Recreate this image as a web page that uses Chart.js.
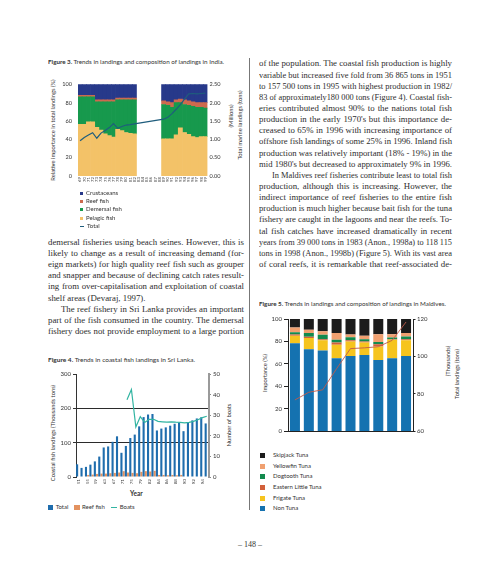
<!DOCTYPE html>
<html><head><meta charset="utf-8">
<script src="https://cdn.jsdelivr.net/npm/chart.js@4.4.1/dist/chart.umd.min.js"></script>
<style>
html,body{margin:0;padding:0;background:#fff;}
body{width:500px;height:571px;position:relative;overflow:hidden;font-family:Lato,"Liberation Sans",sans-serif;color:#333;}
canvas{position:absolute;}
.col{position:absolute;font-family:"Liberation Serif",serif;font-size:8.8px;line-height:11.15px;color:#2e2e2e;}
.col div{white-space:nowrap;height:11.15px;}
.col span,.cap span{display:inline-block;transform-origin:0 50%;white-space:nowrap;}
.cap{position:absolute;font-size:5.8px;line-height:8px;white-space:nowrap;}
.vt{position:absolute;white-space:nowrap;transform:translate(-50%,-50%) rotate(-90deg);font-size:5.8px;line-height:7px;}
.lg{position:absolute;font-size:6px;white-space:nowrap;}
.rule{position:absolute;left:248.5px;top:58px;width:1.6px;height:452px;background:#777;}
</style>
</head><body>
<div class="rule"></div>

<div class="cap" id="cap3" style="left:48px;top:57.7px"><span><b>Figure 3.</b> Trends in landings and composition of landings in India.</span></div>
<div class="cap" id="cap4" style="left:48px;top:356px"><span><b>Figure 4.</b> Trends in coastal fish landings in Sri Lanka.</span></div>
<div class="cap" id="cap5" style="left:259px;top:300.3px"><span><b>Figure 5.</b> Trends in landings and composition of landings in Maldives.</span></div>

<div class="vt" style="left:52px;top:130px">Relative importance in total landings (%)</div>
<div class="vt" style="left:230px;top:116px">(Millions)</div>
<div class="vt" style="left:238.5px;top:125px">Total marine landings (tons)</div>
<div class="vt" style="left:52px;top:433px">Coastal fish landings (Thousands tons)</div>
<div class="vt" style="left:228px;top:425px">Number of boats</div>
<div class="vt" style="left:264px;top:373px">Importance (%)</div>
<div class="vt" style="left:447px;top:361px">(Thousands)</div>
<div class="vt" style="left:455.5px;top:374px">Total landings (tons)</div>
<div class="lg" style="left:130px;top:490px;font-weight:700;font-size:6.5px;">Year</div>

<div class="col" id="left" style="left:48px;top:236.9px;width:196px">
<div>demersal fisheries using beach seines. However, this is</div>
<div>likely to change as a result of increasing demand (for-</div>
<div>eign markets) for high quality reef fish such as grouper</div>
<div>and snapper and because of declining catch rates result-</div>
<div>ing from over-capitalisation and exploitation of coastal</div>
<div class="e">shelf areas (Devaraj, 1997).</div>
<div class="i">The reef fishery in Sri Lanka provides an important</div>
<div>part of the fish consumed in the country. The demersal</div>
<div>fishery does not provide employment to a large portion</div>
</div>

<div class="col" id="right" style="left:259px;top:58.4px;width:193px">
<div>of the population. The coastal fish production is highly</div>
<div>variable but increased five fold from 36 865 tons in 1951</div>
<div>to 157 500 tons in 1995 with highest production in 1982/</div>
<div>83 of approximately180 000 tons (Figure 4). Coastal fish-</div>
<div>eries contributed almost 90% to the nations total fish</div>
<div>production in the early 1970's but this importance de-</div>
<div>creased to 65% in 1996 with increasing importance of</div>
<div>offshore fish landings of some 25% in 1996. Inland fish</div>
<div>production was relatively important (18% - 19%) in the</div>
<div class="e">mid 1980's but decreased to approximately 9% in 1996.</div>
<div class="i">In Maldives reef fisheries contribute least to total fish</div>
<div>production, although this is increasing. However, the</div>
<div>indirect importance of reef fisheries to the entire fish</div>
<div>production is much higher because bait fish for the tuna</div>
<div>fishery are caught in the lagoons and near the reefs. To-</div>
<div>tal fish catches have increased dramatically in recent</div>
<div>years from 39 000 tons in 1983 (Anon., 1998a) to 118 115</div>
<div>tons in 1998 (Anon., 1998b) (Figure 5). With its vast area</div>
<div>of coral reefs, it is remarkable that reef-associated de-</div>
</div>

<div style="position:absolute;left:0;width:500px;top:540px;text-align:center;font-family:'Liberation Serif',serif;font-size:8px;color:#333;">– 148 –</div>

<canvas id="c3" width="173" height="116" style="left:56px;top:75px"></canvas>
<canvas id="c4" width="177" height="125" style="left:54px;top:368px"></canvas>
<canvas id="c5" width="169" height="124" style="left:266px;top:313px"></canvas>

<script>
const $ = s => document.querySelector(s);

// Figure 3 - India, composition (%) and total marine landings (millions of tons)
const indiaYears = ['69','70','71','72','73','74','75','76','77','78','79','80','81','82','83','84','85','86','87','88','89','90','91','92','93','94','95','96','97','98','99'];
const indiaPelagic = [56.5,56.5,59,59,53,50,46,44,42.5,51,49.5,47.5,46.5,46,null,null,null,null,null,null,40.5,40.5,40.5,45,52.5,47.5,45.5,43,42,43,43];
const indiaDemersal = [30,30,27.5,27.5,28,31,35,37,38.5,32,33.5,35.5,36.5,37,null,null,null,null,null,null,37.5,36.5,34.5,35,27.5,30.5,31.5,33,33,32,31];
const indiaReef = [1.5,1.5,1.5,1.5,2,2,2,2,2,2,2,2,2,2,null,null,null,null,null,null,4,4,5,3,4,5,5,5,5,5,6];
const indiaCrust = [12,12,12,12,17,17,17,17,17,15,15,15,15,15,null,null,null,null,null,null,18,19,20,17,16,17,18,19,20,20,20];
const indiaTotal = [0.96,1.05,1.12,1.18,1.03,1.17,1.24,1.32,1.43,1.30,1.35,1.39,1.40,1.42,null,null,null,null,null,null,1.55,1.60,1.70,1.82,1.95,2.10,2.24,2.25,2.24,2.25,2.26];
const indiaTicksL = [0,20,40,60,80,100];
const indiaTicksR = [0,0.5,1,1.5,2,2.5];

// Figure 4 - Sri Lanka, coastal landings (thousand tons) and boats
const slYears = ['51','53','55','57','59','61','63','65','67','69','71','73','75','77','79','81','82','83','84','85','86','87','88','89','90','91','92','93','94','95'];
const slTotal = [37,26.5,29.5,36,45.5,59.5,86,89,102.5,118.5,70.5,90.5,113.5,123.5,147.5,174.5,182,183.5,135.5,141,144.5,149.5,155,158,133.5,158,165,170.5,174,156];
const slReef = [null,null,6,7,9,10,10,11,12,13,17,13,12,11,15,17,16,18,6,6,5,6,5,6,null,null,null,null,null,null];
const slBoats = [null,null,null,null,null,null,null,null,null,null,null,37.5,42.5,24.3,29.3,26.5,28,28,27,26.8,26.6,26.8,26.6,26.5,26.3,26.5,27,27.8,28.8,29.5];

// Figure 5 - Maldives, composition (%) and total landings (thousand tons)
const mvYears = ['1990','1991','1992','1993','1994','1995','1996','1997','1998'];
const mvNonTuna = [78.5,73,72,65,67,68,63.5,65,67];
const mvFrigate = [6.6,10,9,12,13,11,12,16.5,14];
const mvEastern = [1.2,1.3,1,2,1.2,1,2,0.5,1];
const mvDogtooth = [2,3.2,4,2.5,2.5,2,2,1.5,2.5];
const mvYellowfin = [4.2,3,3,6,2.5,3,7,3,3];
const mvSkipjack = [7.5,9.5,11,12.5,13.8,15,13.5,13.5,12.5];
const mvTotal = [76.8,80.9,82.2,93.5,104.2,104.6,105.2,108.6,118.4];

Chart.defaults.font.family = "Lato, 'Liberation Sans', sans-serif";
Chart.defaults.color = '#333';

const base = {
  responsive:false, animation:false, devicePixelRatio:1,
  layout:{padding:{top:6}},
  plugins:{legend:{display:false}, tooltip:{enabled:false}}
};
const fixW = w => s => { s.width = w; };
const fixH = h => s => { s.height = h; };

const c3 = {crust:'#27398a', reef:'#cd6a4e', dem:'#17994d', pel:'#f3c268', tot:'#1f5d7d'};
new Chart($('#c3'), {
  data:{labels:indiaYears, datasets:[
    {type:'line', label:'Total', data:indiaTotal, yAxisID:'y1', borderColor:c3.tot, borderWidth:1.2, pointRadius:0, spanGaps:true, tension:0, order:0},
    {type:'bar', label:'Pelagic fish', data:indiaPelagic, backgroundColor:c3.pel, order:1},
    {type:'bar', label:'Demersal fish', data:indiaDemersal, backgroundColor:c3.dem, order:1},
    {type:'bar', label:'Reef fish', data:indiaReef, backgroundColor:c3.reef, order:1},
    {type:'bar', label:'Crustaceans', data:indiaCrust, backgroundColor:c3.crust, order:1}
  ]},
  options:{...base,
    datasets:{bar:{barPercentage:1, categoryPercentage:1}},
    scales:{
      x:{stacked:true, grid:{display:false, drawTicks:false}, border:{display:false},
         ticks:{autoSkip:false, minRotation:90, maxRotation:90, padding:1, color:'#444', font:{size:4.3}}, afterFit:fixH(15)},
      y:{stacked:true, min:0, max:100, afterBuildTicks:s=>{s.ticks=indiaTicksL.map(v=>({value:v}));},
         ticks:{padding:6, font:{size:5.6}}, grid:{display:false, drawTicks:false}, border:{display:false}, afterFit:fixW(22)},
      y1:{position:'right', min:0, max:2.5, afterBuildTicks:s=>{s.ticks=indiaTicksR.map(v=>({value:v}));},
         ticks:{padding:2, font:{size:5.6}, callback:v=>Number(v).toFixed(2)}, grid:{display:false, drawTicks:false}, border:{display:false}, afterFit:fixW(21.5)}
    }
  }
});

const c4 = {tot:'#1f6dad', reef:'#e3925f', boats:'#33b5a2'};
new Chart($('#c4'), {
  data:{labels:slYears, datasets:[
    {type:'line', label:'Boats', data:slBoats, yAxisID:'y1', borderColor:c4.boats, borderWidth:1.2, pointRadius:0, tension:0, order:0},
    {type:'bar', label:'Total', data:slTotal, backgroundColor:c4.tot, order:1},
    {type:'bar', label:'Reef fish', data:slReef, backgroundColor:c4.reef, order:1}
  ]},
  options:{...base,
    datasets:{bar:{barPercentage:0.95, categoryPercentage:1}},
    scales:{
      x:{grid:{display:false, drawTicks:false}, border:{display:false},
         ticks:{autoSkip:false, minRotation:90, maxRotation:90, padding:2, color:'#444', font:{size:4.6}, callback:(v,i)=> i%2===0 ? slYears[i] : ''}, afterFit:fixH(16)},
      y:{min:0, max:300, ticks:{stepSize:100, padding:2, font:{size:6}},
         grid:{color:c=>(c.tick && (c.tick.value===100 || c.tick.value===200)) ? '#2b2b2b' : 'rgba(0,0,0,0)', lineWidth:1, tickLength:3, tickColor:'#333'},
         border:{color:'#333', width:1}, afterFit:fixW(22)},
      y1:{position:'right', min:0, max:50, ticks:{stepSize:10, padding:2, font:{size:6}},
         grid:{drawOnChartArea:false, tickLength:2, tickColor:'#888'}, border:{color:'#9a9a9a', width:2}, afterFit:fixW(22)}
    }
  }
});

const c5 = {sj:'#1c1c1c', yf:'#f0a070', dt:'#138a4e', el:'#d2603a', ft:'#f6c41e', nt:'#1572b0', tot:'#c05a4a'};
new Chart($('#c5'), {
  data:{labels:mvYears, datasets:[
    {type:'line', label:'Total landings', data:mvTotal, yAxisID:'y1', borderColor:c5.tot, borderWidth:0.9, pointRadius:0, tension:0, order:0},
    {type:'bar', label:'Non Tuna', data:mvNonTuna, backgroundColor:c5.nt, order:1},
    {type:'bar', label:'Frigate Tuna', data:mvFrigate, backgroundColor:c5.ft, order:1},
    {type:'bar', label:'Eastern Little Tuna', data:mvEastern, backgroundColor:c5.el, order:1},
    {type:'bar', label:'Dogtooth Tuna', data:mvDogtooth, backgroundColor:c5.dt, order:1},
    {type:'bar', label:'Yellowfin Tuna', data:mvYellowfin, backgroundColor:c5.yf, order:1},
    {type:'bar', label:'Skipjack Tuna', data:mvSkipjack, backgroundColor:c5.sj, order:1}
  ]},
  options:{...base,
    datasets:{bar:{barPercentage:0.72, categoryPercentage:1}},
    scales:{
      x:{stacked:true, grid:{display:false, drawTicks:false}, border:{display:true, color:'#222', width:1},
         ticks:{display:false}, afterFit:fixH(5)},
      y:{stacked:true, min:0, max:100, ticks:{stepSize:20, padding:2, font:{size:6}},
         grid:{drawOnChartArea:false, tickLength:4, tickColor:'#222', color:'#222'}, border:{color:'#222', width:1}, afterFit:fixW(22)},
      y1:{position:'right', min:60, max:120, ticks:{stepSize:20, padding:1.5, font:{size:6}},
         grid:{drawOnChartArea:false, tickLength:2.5, tickColor:'#222', color:'#222'}, border:{color:'#222', width:1}, afterFit:fixW(22)}
    }
  }
});

// legends
function legend(items, x, y, dy, dx, sz, tx){
  items.forEach(([label, color, kind], i) => {
    const d = document.createElement('div');
    d.className = 'lg';
    const cx = x + (dx ? dx[i] : 0), cy = y + i*dy;
    d.style.left = cx + 'px'; d.style.top = (cy - 4) + 'px'; d.style.lineHeight = '8px';
    const mark = kind === 'line'
      ? `<span style="display:inline-block;width:${sz+1}px;height:1.2px;background:${color};vertical-align:middle;margin-right:${tx}px"></span>`
      : `<span style="display:inline-block;width:${sz}px;height:${sz}px;background:${color};vertical-align:middle;margin-right:${tx}px"></span>`;
    d.innerHTML = mark + `<span style="vertical-align:middle">${label}</span>`;
    document.body.appendChild(d);
  });
}
legend([['Crustaceans',c3.crust],['Reef fish',c3.reef],['Demersal fish',c3.dem],['Pelagic fish',c3.pel],['Total',c3.tot,'line']], 79.5, 192.7, 8.35, null, 3, 3.5);
legend([['Skipjack Tuna',c5.sj],['Yellowfin Tuna',c5.yf],['Dogtooth Tuna',c5.dt],['Eastern Little Tuna',c5.el],['Frigate Tuna',c5.ft],['Non Tuna',c5.nt]], 260, 455, 10.65, null, 5, 8);
legend([['Total',c4.tot],['Reef fish',c4.reef],['Boats',c4.boats,'line']], 47.7, 507, 0, [0,26.3,63], 5.5, 2.5);

// fit text lines to the column width
function wrapSpans(root){ root.querySelectorAll('div').forEach(d => { d.innerHTML = '<span>' + d.innerHTML + '</span>'; }); }
function fitCol(col, W){
  wrapSpans(col);
  col.querySelectorAll('div').forEach(d => {
    const ind = d.classList.contains('i') ? 13 : 0;
    if(ind) d.style.paddingLeft = ind + 'px';
    const s = d.firstChild, w = s.getBoundingClientRect().width, t = W - ind;
    if(w > t) s.style.transform = `scaleX(${t/w})`;
    else if(!d.classList.contains('e')){
      const n = (s.textContent.match(/ /g)||[]).length;
      if(n) s.style.wordSpacing = ((t - w)/n) + 'px';
    }
  });
}
fitCol($('#left'), 196);
fitCol($('#right'), 193);
[['#cap3',176],['#cap4',147],['#cap5',187]].forEach(([id,W]) => {
  const s = $(id).firstChild, w = s.getBoundingClientRect().width;
  s.style.transform = `scaleX(${W/w})`;
});
</script>
</body></html>
